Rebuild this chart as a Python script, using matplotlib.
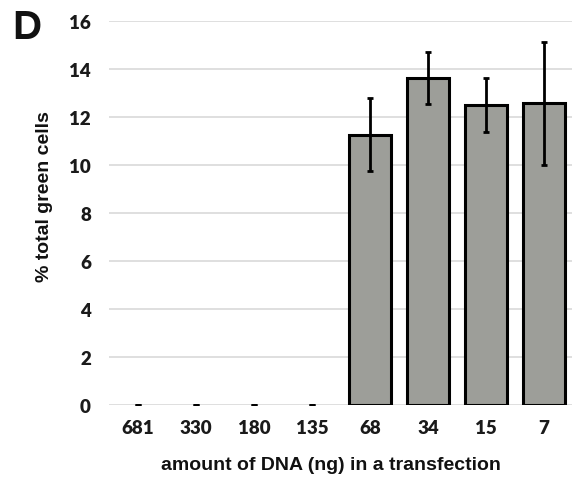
import matplotlib
matplotlib.use("Agg")
import matplotlib.pyplot as plt
import numpy as np

# DNA amounts per transfection and resulting percent green cells
dna_ng = ["681", "330", "180", "135", "68", "34", "15", "7"]
pct_green = [0, 0, 0, 0, 11.27, 13.62, 12.49, 12.57]
pct_err = [0, 0, 0, 0, 1.53, 1.07, 1.12, 2.57]
y_ticks = [0, 2, 4, 6, 8, 10, 12, 14, 16]

fig = plt.figure(figsize=(5.72, 4.81), dpi=100)
ax = fig.add_axes([109 / 572, 1 - 406 / 481, 464 / 572, 384 / 481])

x = np.arange(len(dna_ng))
edge_w = [2.2 if v > 0 else 0 for v in pct_green]
ax.bar(x, pct_green, width=0.72, color="#9d9e99", edgecolor="black",
       linewidth=edge_w, zorder=3)
ax.errorbar(x, pct_green, yerr=pct_err, fmt="none", ecolor="black",
            elinewidth=2.0, capsize=2.5, capthick=2.0, zorder=4)

ax.set_xlim(-0.5, 7.5)
ax.set_ylim(0, 16)
ax.set_yticks(y_ticks)
ax.set_xticks(x)
ax.set_xticklabels(dna_ng)
ax.grid(axis="y", color="#d9d9d9", linewidth=1.2, zorder=0)
ax.set_axisbelow(True)
for s in ax.spines.values():
    s.set_visible(False)
ax.tick_params(length=0)
for lab in ax.get_xticklabels() + ax.get_yticklabels():
    lab.set_fontfamily("Lato")
    lab.set_fontweight("heavy")
    lab.set_fontsize(13.5)
    lab.set_color("#1a1a1a")
ax.tick_params(axis="y", pad=13)
ax.tick_params(axis="x", pad=10)

fig.text(45 / 572, 1 - 197 / 481, "% total green cells", rotation=90,
         ha="center", va="center", fontsize=14, fontweight="bold",
         family="Liberation Sans", color="#111111")
fig.text(331 / 572, 1 - 466 / 481, "amount of DNA (ng) in a transfection",
         ha="center", va="center", fontsize=14, fontweight="bold",
         family="Liberation Sans", color="#111111")
fig.text(27 / 572, 1 - 28 / 481, "D", ha="center", va="center",
         fontsize=29, fontweight="bold", family="Liberation Sans",
         color="#111111")

fig.savefig("out.png", dpi=100)
